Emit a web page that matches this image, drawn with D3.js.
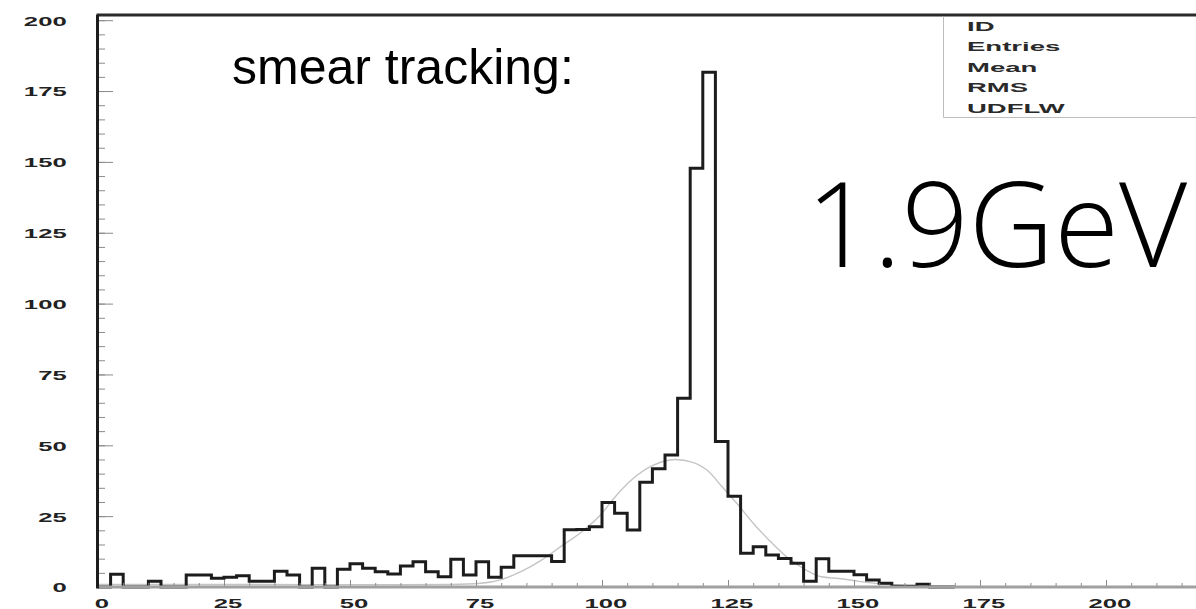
<!DOCTYPE html>
<html>
<head>
<meta charset="utf-8">
<script src="https://cdn.jsdelivr.net/npm/d3@7"></script>
<style>
  html, body { margin: 0; padding: 0; background: #fff; }
  svg { display: block; }
</style>
</head>
<body>
<svg id="chart" width="1196" height="609"></svg>
<script>
// Histogram contents: bin width 2.5, bins starting at 0
const binWidth = 2.5;
const counts = [
  0, 4.5, 0, 0, 2, 0, 0, 4.2, 4.2, 3.1,
  3.4, 4, 2, 2, 5.6, 4.2, 0, 6.6, 0, 6.3,
  8.2, 6.6, 5.4, 4.6, 7.4, 8.9, 5.4, 3.6, 9.8, 4.2,
  8.9, 3.4, 7, 11, 11, 11, 9, 20.2, 20.3, 21.3,
  29.8, 26, 20.1, 37, 41.7, 46.6, 66.6, 147.8, 181.6, 51.3,
  32, 11.9, 14.2, 11.3, 10.1, 8.4, 2, 10, 5.6, 5.6,
  4.3, 2.5, 1.3, 0.3, 0.3, 1, 0, 0
];

// Fitted curve, sampled points
const fitX = [0, 30, 60, 70, 76, 80, 84, 88, 92, 96, 100, 102, 106, 110, 114.5, 118, 121, 124, 127, 130, 133, 136.5, 140.5, 143.5, 147, 151, 156, 162, 170, 250];
const fitY = [0.9, 0.9, 0.8, 0.9, 1.3, 2.6, 5.5, 9.5, 14.5, 19.5, 26, 30.5, 38, 42.8, 45, 44, 41, 35, 29, 22.5, 16.8, 10.8, 6, 3.6, 3, 2, 1, 0.4, 0.1, 0];

// Axis labels
const xTickLabels = [0, 25, 50, 75, 100, 125, 150, 175, 200];
const yTickLabels = [0, 25, 50, 75, 100, 125, 150, 175, 200];
const statLabels = ["ID", "Entries", "Mean", "RMS", "UDFLW"];
const titleText = "smear tracking:";
const energyText = "1.9GeV";

const svg = d3.select("#chart");

const x = d3.scaleLinear().domain([0, 250]).range([98, 98 + 250 * 5.04]);
const y = d3.scaleLinear().domain([0, 200]).range([587, 587 - 200 * 2.834]);
const yTop = y(201.8);

// fitted curve (light grey)
const fitPts = fitX.map((v, i) => [v, fitY[i]]);
svg.append("path")
  .attr("d", d3.line().x(d => x(d[0])).y(d => y(d[1])).curve(d3.curveMonotoneX)(fitPts))
  .attr("fill", "none")
  .attr("stroke", "#c4c4c4")
  .attr("stroke-width", 1.4);

// histogram outline
const histPts = counts.map((c, i) => [i * binWidth, c]);
histPts.push([counts.length * binWidth, counts[counts.length - 1]]);
svg.append("path")
  .attr("d", d3.line().x(d => x(d[0])).y(d => y(d[1])).curve(d3.curveStepAfter)(histPts))
  .attr("fill", "none")
  .attr("stroke", "#1c1c1c")
  .attr("stroke-width", 3)
  .attr("stroke-linejoin", "miter");

// minor ticks
const minor = d3.range(0, 251, 5);
const gxMinor = svg.append("g").attr("transform", `translate(0,${y(0)})`)
  .call(d3.axisBottom(x).tickValues(minor).tickSize(-4).tickFormat(""));
const gyMinor = svg.append("g").attr("transform", `translate(${x(0)},0)`)
  .call(d3.axisLeft(y).tickValues(d3.range(0, 201, 5)).tickSize(-7).tickFormat(""));

// major ticks with labels
const gx = svg.append("g").attr("transform", `translate(0,${y(0)})`)
  .call(d3.axisBottom(x).tickValues(xTickLabels).tickSize(-7).tickPadding(11).tickFormat(d3.format("d")));
const gxMajorRest = svg.append("g").attr("transform", `translate(0,${y(0)})`)
  .call(d3.axisBottom(x).tickValues([225, 250]).tickSize(-7).tickFormat(""));
const gy = svg.append("g").attr("transform", `translate(${x(0)},0)`)
  .call(d3.axisLeft(y).tickValues(yTickLabels).tickSize(-15).tickPadding(16).tickFormat(d3.format("d")));

[gxMinor, gyMinor, gx, gxMajorRest, gy].forEach(g => {
  g.select(".domain").remove();
  g.selectAll(".tick line").attr("stroke", "#8a8a8a").attr("stroke-width", 1);
});

gx.selectAll(".tick text")
  .attr("font-family", "Liberation Sans, Arial, sans-serif")
  .attr("font-weight", "bold")
  .attr("font-size", 13.5)
  .attr("fill", "#222")
  .attr("x", 1.8)
  .attr("transform", "scale(1.9,1)");

gy.selectAll(".tick text")
  .attr("font-family", "Liberation Sans, Arial, sans-serif")
  .attr("font-weight", "bold")
  .attr("font-size", 13.5)
  .attr("fill", "#222")
  .attr("x", -16.5)
  .attr("dy", "0.36em")
  .attr("transform", "scale(1.9,1)");

// frame
svg.append("line")
  .attr("x1", x(0)).attr("x2", 1196).attr("y1", y(0)).attr("y2", y(0))
  .attr("stroke", "#a0a0a0").attr("stroke-width", 3);
svg.append("line")
  .attr("x1", x(0) - 1.5).attr("x2", 1196).attr("y1", yTop).attr("y2", yTop)
  .attr("stroke", "#2a2a2a").attr("stroke-width", 3);
svg.append("line")
  .attr("x1", x(0) - 0.5).attr("x2", x(0) - 0.5).attr("y1", yTop).attr("y2", y(0) + 1.5)
  .attr("stroke", "#1c1c1c").attr("stroke-width", 3);

// statistics box
const boxLeft = 943.5, boxBottom = 117.5;
svg.append("path")
  .attr("d", `M${boxLeft},${yTop + 1.5} V${boxBottom} H1196`)
  .attr("fill", "none")
  .attr("stroke", "#bdbdbd")
  .attr("stroke-width", 1);
svg.append("g").selectAll("text")
  .data(statLabels)
  .join("text")
  .attr("transform", (d, i) => `translate(967,${30.7 + i * 20.5}) scale(2.2,1)`)
  .attr("font-family", "Liberation Sans, Arial, sans-serif")
  .attr("font-weight", "bold")
  .attr("font-size", 12.5)
  .attr("fill", "#2a2a2a")
  .text(d => d);

// annotations
svg.append("text")
  .attr("x", 232).attr("y", 84)
  .attr("font-family", "Liberation Sans, Arial, sans-serif")
  .attr("font-size", 50)
  .attr("fill", "#000")
  .text(titleText);

svg.append("text")
  .attr("x", 806).attr("y", 267)
  .attr("font-family", "Open Sans, Lato, sans-serif")
  .attr("font-weight", 300)
  .attr("font-size", 118)
  .attr("fill", "#000")
  .text(energyText);
</script>
</body>
</html>
